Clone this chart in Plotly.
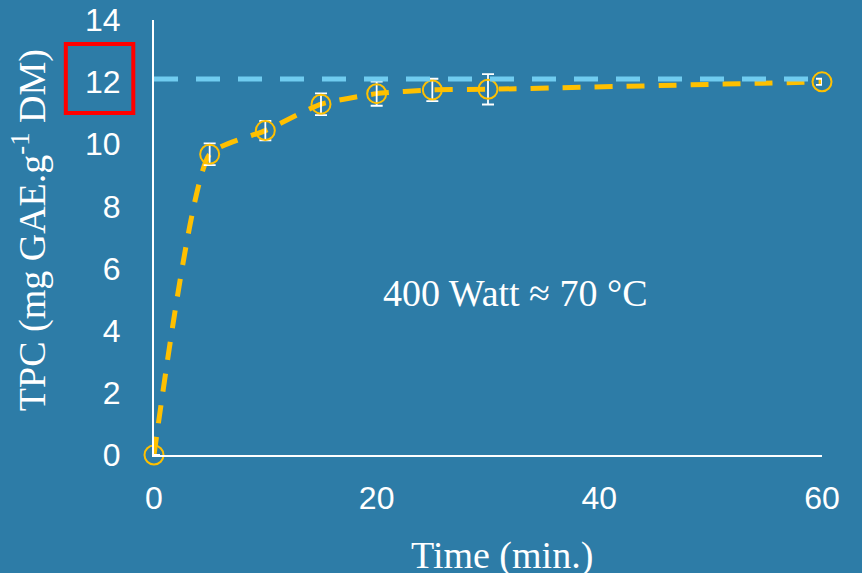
import plotly.graph_objects as go

# ---- data ----
time_min = [0, 5, 10, 15, 20, 25, 30, 60]
tpc = [0.0, 9.68, 10.44, 11.29, 11.63, 11.75, 11.77, 12.01]
tpc_err = [0.0, 0.35, 0.31, 0.35, 0.39, 0.36, 0.49, 0.10]
ref_x = [0, 60]
ref_tpc = [12.1, 12.1]
x_ticks = [0, 20, 40, 60]
y_ticks = [0, 2, 4, 6, 8, 10, 12, 14]

BG = "rgb(45,124,167)"
GOLD = "#FFC000"
CYAN = "rgb(112,204,240)"
SERIF = "Liberation Serif, Times New Roman, serif"
SANS = "Liberation Sans, Arial, sans-serif"

fig = go.Figure()

# smooth dashed curve through the points
fig.add_trace(go.Scatter(
    x=time_min, y=tpc, mode="lines",
    line=dict(color=GOLD, width=5, dash="18px,14px", shape="spline", smoothing=0.5),
    hoverinfo="skip", showlegend=False, cliponaxis=False))

# markers with error bars
fig.add_trace(go.Scatter(
    x=time_min, y=tpc, mode="markers",
    marker=dict(symbol="circle-open", size=19, color=GOLD, line=dict(width=2, color=GOLD)),
    error_y=dict(type="data", array=tpc_err, visible=True, color="white", thickness=1.8, width=6),
    showlegend=False, cliponaxis=False))

# horizontal reference dashed line
fig.add_trace(go.Scatter(
    x=ref_x, y=ref_tpc, mode="lines",
    line=dict(color=CYAN, width=5, dash="24px,18px"),
    hoverinfo="skip", showlegend=False, cliponaxis=False))

fig.update_layout(
    width=862, height=573,
    paper_bgcolor=BG, plot_bgcolor=BG,
    margin=dict(l=154, r=40, t=20, b=118),
    showlegend=False,
    xaxis=dict(range=[0, 60], tickvals=x_ticks, showgrid=False, zeroline=False,
               showline=True, linecolor="white", linewidth=2, automargin=False,
               ticks="", ticklabelstandoff=14,
               tickfont=dict(family=SANS, size=32, color="white")),
    yaxis=dict(range=[0, 14], tickvals=y_ticks, showgrid=False, zeroline=False,
               showline=True, linecolor="white", linewidth=2, automargin=False,
               ticks="", ticklabelstandoff=25,
               tickfont=dict(family=SANS, size=32, color="white")),
    annotations=[
        dict(text="Time (min.)", xref="paper", yref="paper", x=0.521, y=-0.230,
             showarrow=False, xanchor="center", yanchor="middle",
             font=dict(family=SERIF, size=38, color="white")),
        dict(text="TPC (mg GAE.g<sup>-1</sup> DM)", xref="paper", yref="paper",
             x=-0.187, y=0.517, textangle=-90, showarrow=False,
             xanchor="center", yanchor="middle",
             font=dict(family=SERIF, size=38, color="white")),
        dict(text="400 Watt ≈ 70 °C", xref="x", yref="y", x=32.5, y=5.21,
             showarrow=False, xanchor="center", yanchor="middle",
             font=dict(family=SERIF, size=38, color="white")),
    ],
    shapes=[
        dict(type="rect", xref="paper", yref="paper",
             x0=-0.132, x1=-0.031, y0=0.786, y1=0.945,
             line=dict(color="red", width=4), fillcolor="rgba(0,0,0,0)"),
    ],
)

fig.write_html("out.html", config={"displayModeBar": False},
               post_script="document.body.style.margin='0';")
